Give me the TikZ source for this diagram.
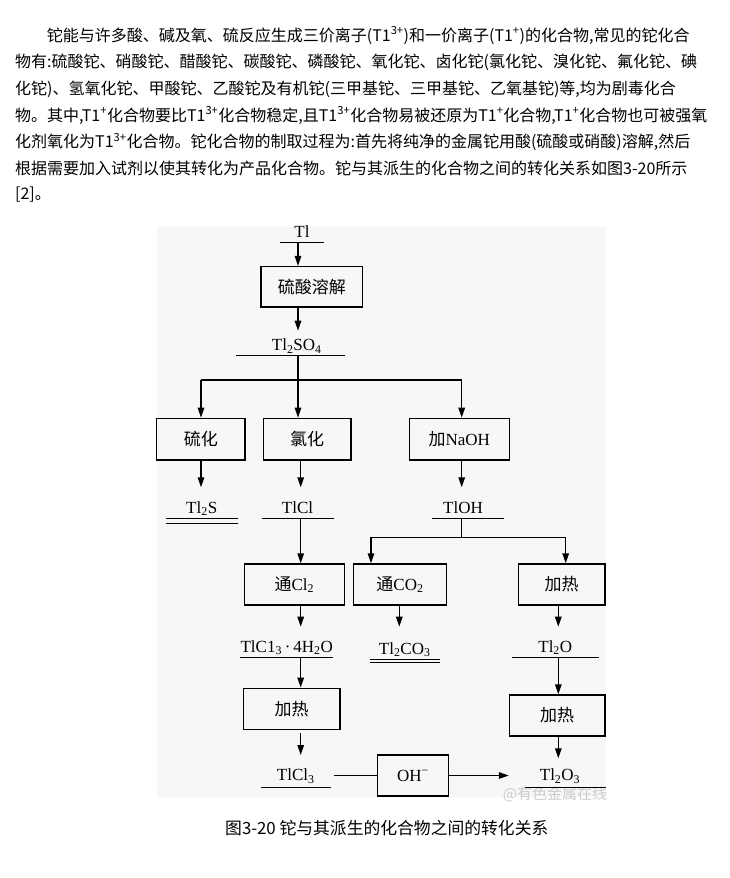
\documentclass[tikz,border=0pt]{standalone}
\usepackage{fontspec}
\setmainfont{Liberation Serif}
\newfontfamily\cjk{Noto Sans CJK SC}
\usetikzlibrary{arrows.meta,calc}
\begin{document}
\begin{tikzpicture}[x=1pt,y=-1pt,
  box/.style={draw, line width=1.4pt, inner sep=0pt, font=\fontsize{17}{20}\selectfont},
  prod/.style={inner sep=0pt, anchor=south, text height=12pt, text depth=5pt, font=\fontsize{17}{20}\selectfont},
  ul/.style={line width=1.3pt},
  ln/.style={line width=1.4pt},
  arr/.style={line width=1.4pt, -{Triangle[length=10pt,width=6.5pt]}},
  into/.style={shorten >=#1},
  para/.style={anchor=base west, inner sep=0pt, font=\cjk\fontsize{16}{16}\selectfont},
]
\useasboundingbox (0,0) rectangle (730,878);
\fill[white] (0,0) rectangle (730,878);

% paragraph
\node[para] (p1) at (46.7,41) {铊能与许多酸、碱及氧、硫反应生成三价离子(T1\textsuperscript{3+})和一价离子(T1\textsuperscript{+})的化合物,常见的铊化合};
\node[para] (p2) at (15,67.7) {物有:硫酸铊、硝酸铊、醋酸铊、碳酸铊、磷酸铊、氧化铊、卤化铊(氯化铊、溴化铊、氟化铊、碘};
\node[para] (p3) at (15,94.4) {化铊)、氢氧化铊、甲酸铊、乙酸铊及有机铊(三甲基铊、三甲基铊、乙氧基铊)等,均为剧毒化合};
\node[para] (p4) at (15,121.1) {物。其中,T1\textsuperscript{+}化合物要比T1\textsuperscript{3+}化合物稳定,且T1\textsuperscript{3+}化合物易被还原为T1\textsuperscript{+}化合物,T1\textsuperscript{+}化合物也可被强氧};
\node[para] (p5) at (15,147.8) {化剂氧化为T1\textsuperscript{3+}化合物。铊化合物的制取过程为:首先将纯净的金属铊用酸(硫酸或硝酸)溶解,然后};
\node[para] (p6) at (15,174.5) {根据需要加入试剂以使其转化为产品化合物。铊与其派生的化合物之间的转化关系如图3-20所示};
\node[para] (p7) at (15,199) {[2]。};

% diagram background
\fill[black!3] (156.7,227) rectangle (606,797);

% columns
\coordinate (c1) at (201,0);
\coordinate (c2) at (298,0);
\coordinate (c3) at (300.7,0);
\coordinate (c4) at (461.7,0);
\coordinate (c5) at (371,0);
\coordinate (c6) at (565.7,0);
\coordinate (c7) at (399.3,0);
\coordinate (c8) at (558.3,0);

% boxes
\node[box, minimum width=101.7pt, minimum height=40.3pt] (b1) at (311.8,286.8) {\cjk 硫酸溶解};
\node[box, minimum width=88.3pt, minimum height=41.7pt] (b2) at (200.8,439.2) {\cjk 硫化};
\node[box, minimum width=87.7pt, minimum height=41.7pt] (b3) at (307.2,439.2) {\cjk 氯化};
\node[box, minimum width=100pt, minimum height=41.7pt] (b4) at (459.3,439.2) {{\cjk 加}NaOH};
\node[box, minimum width=100pt, minimum height=41pt] (b5) at (294.3,584.5) {{\cjk 通}Cl\textsubscript{2}};
\node[box, minimum width=93.4pt, minimum height=41pt] (b6) at (400,584.5) {{\cjk 通}CO\textsubscript{2}};
\node[box, minimum width=86.7pt, minimum height=41pt] (b7) at (561.7,584.5) {\cjk 加热};
\node[box, minimum width=96.7pt, minimum height=41pt] (b8) at (291.7,708.8) {\cjk 加热};
\node[box, minimum width=95.7pt, minimum height=41pt] (b9) at (557.2,715.5) {\cjk 加热};
\node[box, minimum width=70.6pt, minimum height=41pt] (b10) at (413,775.5) {OH\textsuperscript{−}};

% products
\node[prod, minimum width=44pt] (tl) at (302,242.7) {Tl};
\node[prod, minimum width=108.3pt] (tlso4) at (290.8,355.7) {\hspace*{12pt}Tl\textsubscript{2}SO\textsubscript{4}};
\node[prod, minimum width=71.3pt] (tl2s) at (201.7,518.3) {Tl\textsubscript{2}S};
\node[prod, minimum width=71.6pt] (tlcl) at (297.5,518.3) {TlCl};
\node[prod, minimum width=71.6pt] (tloh) at (467.5,518.3) {\hspace*{-9pt}TlOH};
\node[prod, minimum width=90pt] (tlcl3h) at (286.7,657.3) {TlC1\textsubscript{3}\,·\,4H\textsubscript{2}O};
\node[prod, minimum width=69.3pt] (tl2co3) at (404.7,659.3) {Tl\textsubscript{2}CO\textsubscript{3}};
\node[prod, minimum width=86pt] (tl2o) at (555.3,657.3) {Tl\textsubscript{2}O};
\node[prod, minimum width=69.7pt, text depth=7pt] (tlcl3) at (295.8,787.7) {TlCl\textsubscript{3}};
\node[font=\cjk\fontsize{15}{15}\selectfont, text=black!20, inner sep=0pt] (wm) at (555,794.5) {@有色金属在线};
\node[prod, minimum width=81pt, text depth=7pt] (tl2o3) at (565.5,787.7) {\hspace*{-11pt}Tl\textsubscript{2}O\textsubscript{3}};

% underlines
\foreach \n in {tl,tlso4,tlcl,tloh,tlcl3h,tl2o,tlcl3,tl2o3}
  \draw[ul] (\n.south west) -- (\n.south east);
\draw[ul] (tl2s.south west) -- (tl2s.south east);
\draw[ul] ($(tl2s.south west)+(0,5)$) -- ($(tl2s.south east)+(0,5)$);
\draw[ul] (tl2co3.south west) -- (tl2co3.south east);
\draw[ul] ($(tl2co3.south west)+(0,3.5)$) -- ($(tl2co3.south east)+(0,3.5)$);

% connectors
\draw[arr] (tl.south -| c2) -- (b1.north -| c2);
\draw[arr, into=25pt] (b1.south -| c2) -- (tlso4.south -| c2);
\draw[arr] (tlso4.south -| c2) -- (b3.north -| c2);
\coordinate (j1) at (c2 |- 0,380);
\draw[ln] (j1 -| c1) -- (j1 -| c4);
\draw[arr] (j1 -| c1) -- (b2.north -| c1);
\draw[arr] (j1 -| c4) -- (b4.north -| c4);
\draw[arr, into=31pt] (b2.south -| c1) -- (tl2s.south -| c1);
\draw[arr, into=31pt] (b3.south -| c3) -- (tlcl.south -| c3);
\draw[arr, into=31pt] (b4.south -| c4) -- (tloh.south -| c4);
\draw[arr] (tlcl.south -| c3) -- (b5.north -| c3);
\coordinate (j2) at (c4 |- 0,537.3);
\draw[ln] (tloh.south -| c4) -- (j2);
\draw[ln] (j2 -| c5) -- (j2 -| c6);
\draw[arr] (j2 -| c5) -- (b6.north -| c5);
\draw[arr] (j2 -| c6) -- (b7.north -| c6);
\draw[arr, into=30.6pt] (b5.south -| c3) -- (tlcl3h.south -| c3);
\draw[arr, into=32.6pt] (b6.south -| c7) -- (tl2co3.south -| c7);
\draw[arr, into=30.6pt] (b7.south -| c8) -- (tl2o.south -| c8);
\draw[arr] (tlcl3h.south -| c3) -- (b8.north -| c3);
\draw[arr, into=32.7pt, shorten <=3pt] (b8.south -| c3) -- (tlcl3.south -| c3);
\draw[arr] (tl2o.south -| c8) -- (b9.north -| c8);
\draw[arr, into=29.4pt] (b9.south -| c8) -- (tl2o3.south -| c8);
\draw[ln, shorten <=3.6pt] (tlcl3.south east |- b10.west) -- (b10.west);
\draw[arr, into=16pt] (b10.east) -- (tl2o3.south west |- b10.east);

% caption
\node[font=\cjk\fontsize{16.8}{17}\selectfont, anchor=base west, inner sep=0pt] (cap) at (225,834) {图3-20 铊与其派生的化合物之间的转化关系};
\end{tikzpicture}
\end{document}
